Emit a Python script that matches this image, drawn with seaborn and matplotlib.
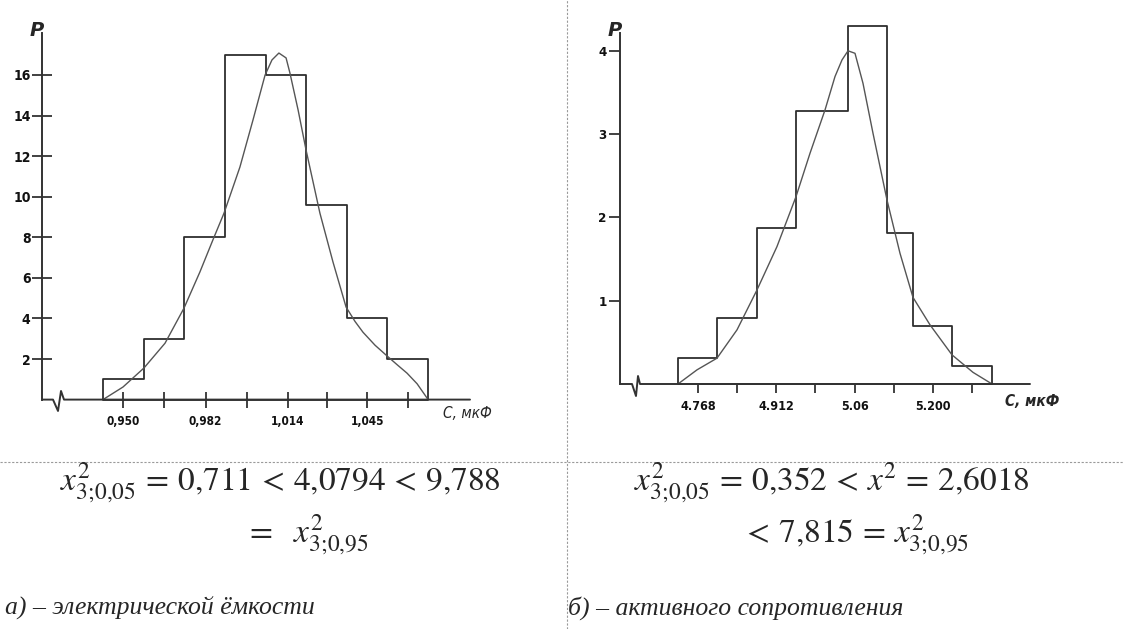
import numpy as np
import matplotlib
matplotlib.use("Agg")
import matplotlib.pyplot as plt
from matplotlib import font_manager as fm
from matplotlib.lines import Line2D
import seaborn as sns

# ---------------- a) electrical capacitance ----------------
cap_edges = [0.9421, 0.9579, 0.9737, 0.9896, 1.0054, 1.0212, 1.0371, 1.0529, 1.0688]
cap_freq = [1, 3, 8, 17, 16, 9.6, 4, 2]
cap_curve_x = [0.9420, 0.9498, 0.9580, 0.9662, 0.9736, 0.9798, 0.9849, 0.9892,
               0.9954, 1.0005, 1.0052, 1.0079, 1.0106, 1.0134, 1.0149, 1.0181,
               1.0212, 1.0266, 1.0317, 1.0368, 1.0403, 1.0434, 1.0481, 1.0528,
               1.0567, 1.0606, 1.0645, 1.0688]
cap_curve_y = [0, 0.62, 1.56, 2.78, 4.51, 6.29, 7.88, 9.19,
               11.46, 13.78, 15.99, 16.74, 17.08, 16.84, 16.10, 14.27,
               12.30, 9.19, 6.78, 4.56, 3.85, 3.32, 2.68, 2.15,
               1.72, 1.30, 0.78, 0]
cap_xticks = [0.950, 0.9658, 0.982, 0.998, 1.014, 1.0295, 1.045, 1.0608]
cap_xticklabels = ["0,950", "", "0,982", "", "1,014", "", "1,045", ""]
cap_yticks = [2, 4, 6, 8, 10, 12, 14, 16]

# ---------------- b) active resistance ----------------
res_edges = [4.7312, 4.8029, 4.8765, 4.9482, 5.0438, 5.1154, 5.1632, 5.2349, 5.3085]
res_freq = [0.31, 0.79, 1.87, 3.28, 4.30, 1.81, 0.70, 0.22]
res_curve_x = [4.7312, 4.7662, 4.8029, 4.8397, 4.8765, 4.9132, 4.9482, 4.9739,
               5.0015, 5.0198, 5.0327, 5.0438, 5.0566, 5.0713, 5.0897, 5.1154,
               5.1393, 5.1632, 5.1945, 5.2349, 5.2735, 5.3085]
res_curve_y = [0, 0.17, 0.31, 0.65, 1.13, 1.65, 2.25, 2.77,
               3.29, 3.69, 3.89, 4.00, 3.97, 3.61, 3.01, 2.21,
               1.57, 1.04, 0.71, 0.35, 0.14, 0]
res_xticks = [4.768, 4.840, 4.912, 4.984, 5.056, 5.128, 5.200, 5.272]
res_xticklabels = ["4.768", "", "4.912", "", "5.06", "", "5.200", ""]
res_yticks = [1, 2, 3, 4]

# ---------------- text ----------------
formula_a1 = r"$x^2_{3;\!0{,}05} \,=\, 0{,}711 \,<\, 4{,}0794 \,<\, 9{,}788$"
formula_a2 = r"$=\ \ x^2_{3;\!0{,}95}$"
formula_b1 = r"$x^2_{3;\!0{,}05} \,=\, 0{,}352 \,<\, x^2 \,=\, 2{,}6018$"
formula_b2 = r"$<\, 7{,}815 \,=\, x^2_{3;\!0{,}95}$"
caption_a = "а) – электрической ёмкости"
caption_b = "б) – активного сопротивления"
x_label = "C, мкФ"
y_label = "P"

sns.set_theme(style="white")
plt.rcParams["font.family"] = ["DejaVu Sans"]
plt.rcParams["mathtext.fontset"] = "stix"

TICK_FONT = fm.FontProperties(family="DejaVu Sans", stretch="condensed", weight="bold")

W, H = 1124, 629
fig = plt.figure(figsize=(W / 100, H / 100), dpi=100)
fig.patch.set_facecolor("white")

AX_COL = "#333333"
BAR_COL = "#2e2e2e"
CURVE_COL = "#555555"


def px_rect(x0, y_top, x1, y_bot):
    return [x0 / W, 1 - y_bot / H, (x1 - x0) / W, (y_bot - y_top) / H]


def draw_panel(ax, edges, freq, cx, cy, xticks, xlabels, yticks, xlim, ylim,
               brk, ytick_style, xtick_style, xlab_size, ylab_size):
    centers = 0.5 * (np.array(edges[:-1]) + np.array(edges[1:]))
    sns.histplot(x=centers, weights=freq, bins=edges, element="step", fill=True,
                 color=BAR_COL, facecolor="none", edgecolor=BAR_COL, linewidth=1.3,
                 clip_on=False, ax=ax)
    sns.lineplot(x=cx, y=cy, sort=False, estimator=None, color=CURVE_COL,
                 linewidth=1.0, ax=ax)
    ax.set_xlim(*xlim)
    ax.set_ylim(*ylim)
    ax.set_xlabel("")
    ax.set_ylabel("")
    ax.set_facecolor("none")
    for s in ("top", "right", "bottom"):
        ax.spines[s].set_visible(False)
    ax.spines["left"].set_color(AX_COL)
    ax.spines["left"].set_linewidth(1.4)
    # bottom axis with a break mark next to the origin
    bx, by = brk
    ax.add_line(Line2D([0, bx[0], bx[1], bx[2], bx[3], 1],
                       [0, 0, by[0], by[1], 0, 0],
                       transform=ax.transAxes, color=AX_COL, lw=1.4,
                       clip_on=False))
    ax.set_xticks(xticks)
    ax.set_xticklabels(xlabels)
    ax.set_yticks(yticks)
    ax.set_yticklabels([str(v) for v in yticks])
    ax.tick_params(axis="y", left=True, color=AX_COL, width=1.3, **ytick_style)
    ax.tick_params(axis="x", bottom=True, color=AX_COL, width=1.3, **xtick_style)
    for lab in ax.get_xticklabels():
        lab.set_fontproperties(TICK_FONT)
        lab.set_fontsize(xlab_size)
        lab.set_color("#111111")
    for lab in ax.get_yticklabels():
        lab.set_fontproperties(TICK_FONT)
        lab.set_fontsize(ylab_size)
        lab.set_color("#111111")


# panel a
ax_a = fig.add_axes(px_rect(42, 33, 470, 399.6))
draw_panel(ax_a, cap_edges, cap_freq, cap_curve_x, cap_curve_y,
           cap_xticks, cap_xticklabels, cap_yticks,
           (0.91822, 1.08513), (0, 18.068),
           ((0.0257, 0.0374, 0.0444, 0.0514), (-0.031, 0.0235)),
           dict(direction="inout", length=14.4, pad=1),
           dict(direction="inout", length=11.5, pad=5.5), 8.5, 10)

# panel b
ax_b = fig.add_axes(px_rect(620, 33, 1030, 384))
draw_panel(ax_b, res_edges, res_freq, res_curve_x, res_curve_y,
           res_xticks, res_xticklabels, res_yticks,
           (4.62461, 5.37832), (0, 4.2137),
           ((0.0293, 0.039, 0.0439, 0.0488), (-0.0342, 0.0228)),
           dict(direction="out", length=8, pad=1.5),
           dict(direction="out", length=6.5, pad=5), 9, 9.5)


def ftxt(x, y, s, **kw):
    fig.text(x / W, 1 - y / H, s, **kw)


# axis titles
ftxt(37, 31, y_label, ha="center", va="center", fontsize=14,
     fontstyle="italic", fontweight="bold")
ftxt(615, 31, y_label, ha="center", va="center", fontsize=14,
     fontstyle="italic", fontweight="bold")
ftxt(443, 413, x_label, ha="left", va="center", fontsize=11,
     fontstyle="italic", fontstretch="condensed")
ftxt(1005, 402, x_label, ha="left", va="center", fontsize=11,
     fontstyle="italic", fontweight="bold", fontstretch="condensed")

# chi-square statements
ftxt(280, 483, formula_a1, ha="center", va="center", fontsize=24)
ftxt(307, 535, formula_a2, ha="center", va="center", fontsize=24)
ftxt(832, 483, formula_b1, ha="center", va="center", fontsize=24)
ftxt(856, 535, formula_b2, ha="center", va="center", fontsize=24)

# captions
ftxt(5, 608, caption_a, ha="left", va="center", fontsize=18.5,
     fontstyle="italic", family=["Liberation Serif", "DejaVu Serif"])
ftxt(568, 608, caption_b, ha="left", va="center", fontsize=18.5,
     fontstyle="italic", family=["Liberation Serif", "DejaVu Serif"])

# table grid (dotted)
fig.add_artist(Line2D([567 / W, 567 / W], [0, 1], transform=fig.transFigure,
                      color="#9a9a9a", lw=0.8, ls=(0, (2, 1.5))))
fig.add_artist(Line2D([0, 1], [1 - 462 / H, 1 - 462 / H], transform=fig.transFigure,
                      color="#9a9a9a", lw=0.8, ls=(0, (2, 1.5))))

fig.savefig("out.png", dpi=100, facecolor="white")
